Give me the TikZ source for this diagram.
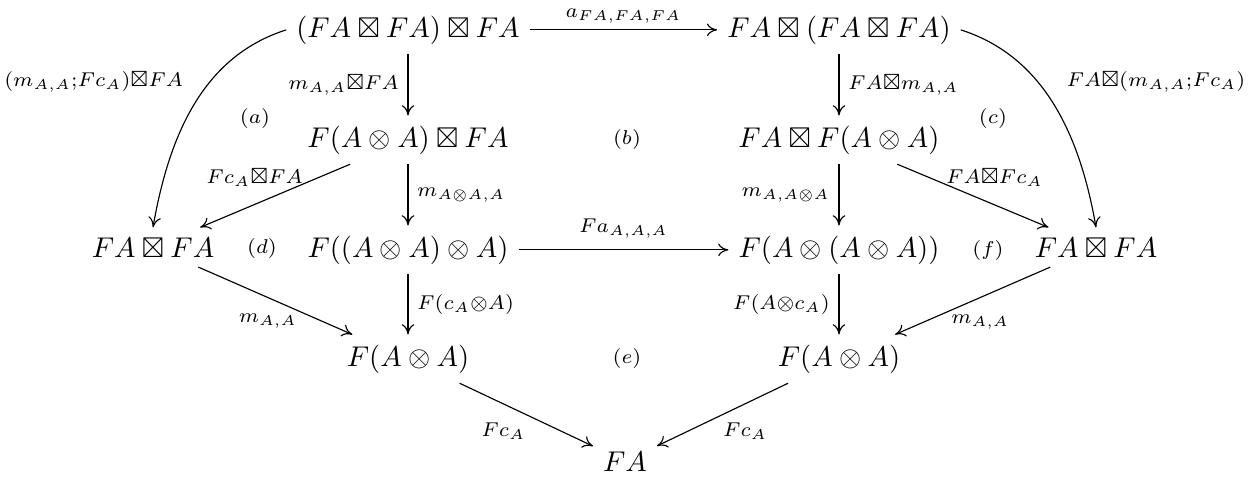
\documentclass[tikz,border=0pt]{standalone}
\usepackage{amssymb}
\usetikzlibrary{arrows.meta}
\newlength\pxl
\setlength\pxl{0.35pt}
\begin{document}
\begin{tikzpicture}[x=0.35pt,y=-0.35pt,>={To[length=3.6pt,width=4.4pt]},line width=0.4pt,
  obj/.style={anchor=base,inner sep=3.33pt},
  lab/.style={inner sep=3pt},
  reg/.style={inner sep=0pt}]
\useasboundingbox (0,0) rectangle (1255,479);
% objects
\node[obj] (tl) at (408,37) {$(FA\boxtimes FA)\boxtimes FA$};
\node[obj] (tr) at (839,37) {$FA\boxtimes(FA\boxtimes FA)$};
\node[obj] (ml) at (408,147) {$F(A\otimes A)\boxtimes FA$};
\node[obj] (mr) at (839,147) {$FA\boxtimes F(A\otimes A)$};
\node[obj] (l)  at (153,257) {$FA\boxtimes FA$};
\node[obj] (cl) at (408,257) {$F((A\otimes A)\otimes A)$};
\node[obj] (cr) at (839,257) {$F(A\otimes(A\otimes A))$};
\node[obj] (r)  at (1096,257) {$FA\boxtimes FA$};
\node[obj] (bl) at (408,366) {$F(A\otimes A)$};
\node[obj] (br) at (839,366) {$F(A\otimes A)$};
\node[obj] (b)  at (625,471) {$FA$};
% region labels
\node[reg] (ra) at (255,118) {$\scriptstyle(a)$};
\node[reg] (rb) at (627,139) {$\scriptstyle(b)$};
\node[reg] (rc) at (993,118) {$\scriptstyle(c)$};
\node[reg] (rd) at (262,248) {$\scriptstyle(d)$};
\node[reg] (re) at (627,358) {$\scriptstyle(e)$};
\node[reg] (rf) at (988,250) {$\scriptstyle(f)$};
% arrows
\draw[->] (tl) -- node[lab,above,inner sep=2pt]{$\scriptstyle a_{FA,FA,FA}$} (tr);
\draw[->] (tl.west) .. controls +(-80,25.5) and +(17,-98) .. node[lab,pos=0.4,anchor=east,inner sep=0pt,xshift=-26\pxl]{$\scriptstyle (m_{A,A};Fc_A)\boxtimes FA$} (l.north);
\draw[->] (tr.east) .. controls +(80,25.5) and +(-17,-98) .. node[lab,pos=0.4,anchor=west,inner sep=0pt,xshift=28\pxl]{$\scriptstyle FA\boxtimes(m_{A,A};Fc_A)$} (r.north);
\draw[->] (tl) -- node[lab,left]{$\scriptstyle m_{A,A}\boxtimes FA$} (ml);
\draw[->] (tr) -- node[lab,right]{$\scriptstyle FA\boxtimes m_{A,A}$} (mr);
\draw[->] (ml) -- node[lab,xshift=-20.5\pxl,yshift=18\pxl]{$\scriptstyle Fc_A\boxtimes FA$} (l);
\draw[->] (mr) -- node[lab,xshift=21.5\pxl,yshift=18\pxl]{$\scriptstyle FA\boxtimes Fc_A$} (r);
\draw[->] (ml) -- node[lab,right]{$\scriptstyle m_{A\otimes A,A}$} (cl);
\draw[->] (mr) -- node[lab,left]{$\scriptstyle m_{A,A\otimes A}$} (cr);
\draw[->] (cl) -- node[lab,above,inner sep=4pt]{$\scriptstyle Fa_{A,A,A}$} (cr);
\draw[->] (l) -- node[lab,xshift=-7.5\pxl,yshift=-20\pxl]{$\scriptstyle m_{A,A}$} (bl);
\draw[->] (r) -- node[lab,xshift=7.5\pxl,yshift=-21\pxl]{$\scriptstyle m_{A,A}$} (br);
\draw[->] (cl) -- node[lab,right]{$\scriptstyle F(c_A\otimes A)$} (bl);
\draw[->] (cr) -- node[lab,left]{$\scriptstyle F(A\otimes c_A)$} (br);
\draw[->] (bl) -- node[lab,xshift=-23\pxl,yshift=-16.5\pxl]{$\scriptstyle Fc_A$} (b);
\draw[->] (br) -- node[lab,xshift=22.5\pxl,yshift=-16.5\pxl]{$\scriptstyle Fc_A$} (b);
\end{tikzpicture}
\end{document}
